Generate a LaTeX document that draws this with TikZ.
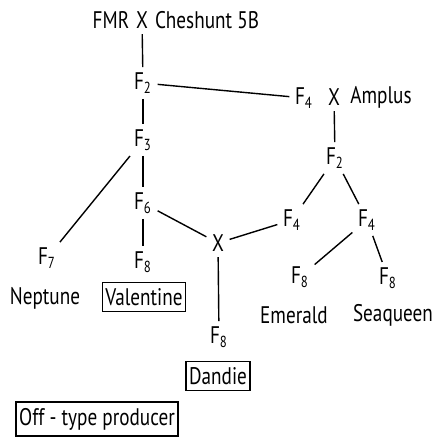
\documentclass[tikz,border=0pt]{standalone}
\usepackage{fontspec}
\setmainfont{PT Sans}[FakeStretch=0.8]

\tikzset{
    gen/.style={inner sep=2.5pt},
    cv/.style={draw=black, line width=0.7pt, inner xsep=1.5pt, inner ysep=3pt},
}

\begin{document}
\begin{tikzpicture}[x=0.5pt,y=-0.5pt,line width=0.7pt,font=\fontsize{12}{14}\selectfont]
            \useasboundingbox (0,0) rectangle (435,439);

            % first cross
            \node[gen] (fmr) at (111,20) {FMR};
            \node[gen] (crossA) at (142,20) {X};
            \node[gen] (cheshunt) at (207,20) {Cheshunt 5B};

            % left line
            \node[gen] (f2a) at (143,83) {F\textsubscript{2}};
            \node[gen] (f3) at (143,140) {F\textsubscript{3}};
            \node[gen] (f6) at (143,203) {F\textsubscript{6}};
            \node[gen] (f7) at (47,258) {F\textsubscript{7}};
            \node[gen] (f8a) at (143,262) {F\textsubscript{8}};

            % second cross
            \node[gen] (f4a) at (304,98) {F\textsubscript{4}};
            \node[gen] (crossB) at (334,97) {X};
            \node[gen] (amplus) at (381,97) {Amplus};

            % right line
            \node[gen] (f2b) at (335,158) {F\textsubscript{2}};
            \node[gen] (f4b) at (292,220) {F\textsubscript{4}};
            \node[gen] (f4c) at (367,220) {F\textsubscript{4}};
            \node[gen] (f8d) at (300,277) {F\textsubscript{8}};
            \node[gen] (f8e) at (388,278) {F\textsubscript{8}};

            % third cross
            \node[gen] (crossC) at (218,243) {X};
            \node[gen] (f8c) at (219,337) {F\textsubscript{8}};

            % cultivars
            \node[gen] (neptune) at (45,298) {Neptune};
            \node[cv] (valentine) at (144,297) {Valentine};
            \node[gen] (emerald) at (294,315) {Emerald};
            \node[gen] (seaqueen) at (393,315) {Seaqueen};
            \node[cv] (dandie) at (218,376) {Dandie};
            \node[cv] (offtype) at (97,419) {Off - type producer};

            \path (crossA) edge (f2a);
            \path (f2a) edge (f4a);
            \path (f2a) edge (f3);
            \path (f3) edge (f7);
            \path (f3) edge (f6);
            \path (f6) edge (f8a);
            \path (f6) edge (crossC);
            \path (crossC) edge (f4b);
            \path (crossC) edge (f8c);
            \path (crossB) edge (f2b);
            \path (f2b) edge (f4b);
            \path (f2b) edge (f4c);
            \path (f4c) edge (f8d);
            \path (f4c) edge (f8e);
        \end{tikzpicture}
\end{document}
